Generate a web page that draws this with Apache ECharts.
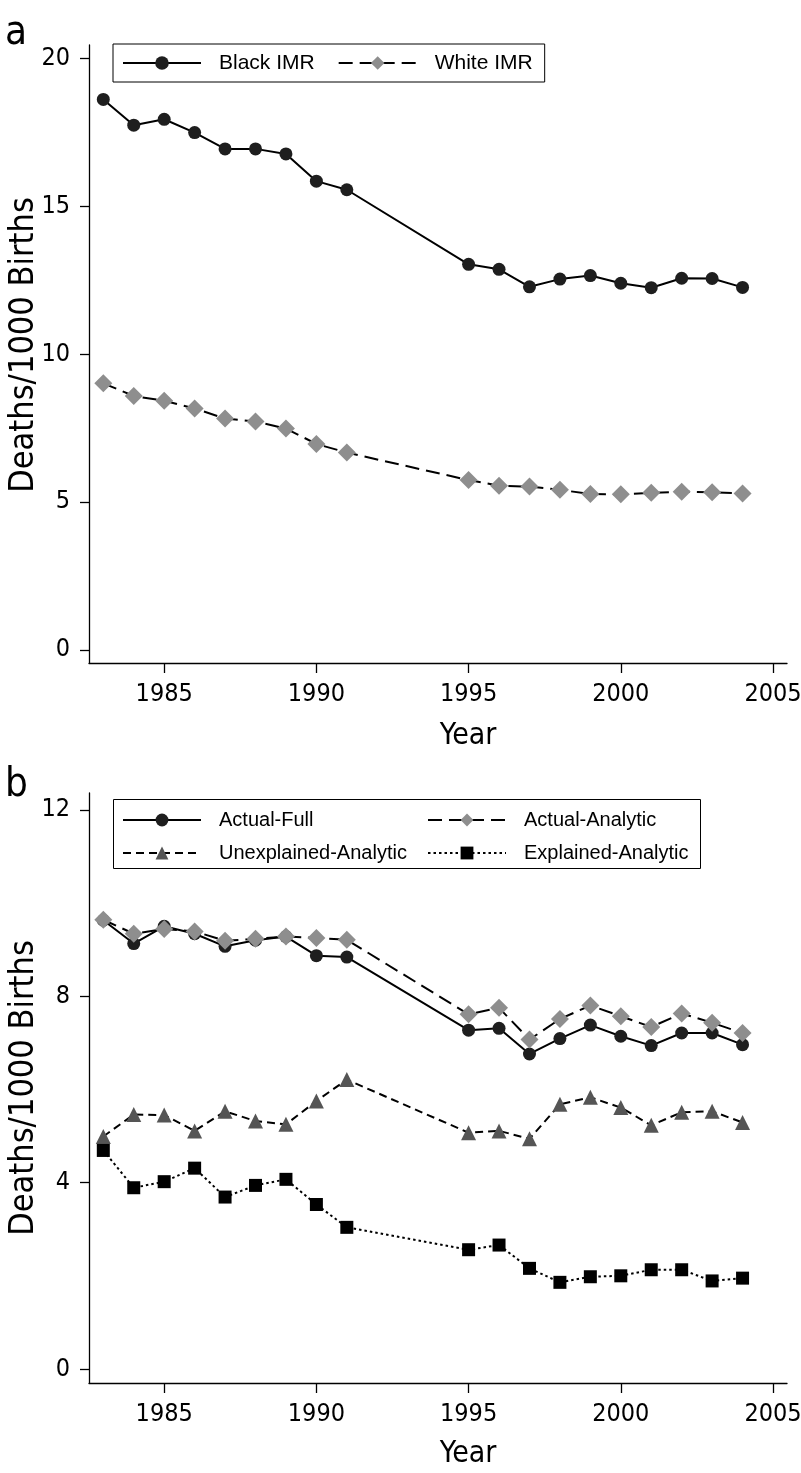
<!DOCTYPE html>
<html>
<head>
<meta charset="utf-8">
<style>
html,body{margin:0;padding:0;background:#fff;}
#chart{width:801px;height:1473px;}
</style>
<script src="https://cdn.jsdelivr.net/npm/echarts@6/dist/echarts.min.js"></script>
</head>
<body>
<div id="chart"></div>
<script>
const years = [1983,1984,1985,1986,1987,1988,1989,1990,1991,1995,1996,1997,1998,1999,2000,2001,2002,2003,2004];
const blackIMR = [18.60,17.73,17.93,17.48,16.93,16.93,16.76,15.84,15.55,13.03,12.86,12.27,12.53,12.65,12.39,12.24,12.56,12.55,12.25];
const whiteIMR = [9.01,8.58,8.42,8.16,7.82,7.72,7.48,6.96,6.67,5.74,5.55,5.52,5.41,5.27,5.26,5.31,5.35,5.33,5.29];
const actualFull = [9.63,9.13,9.50,9.34,9.07,9.20,9.28,8.87,8.84,7.27,7.31,6.76,7.09,7.38,7.14,6.94,7.21,7.21,6.96];
const actualAnalytic = [9.64,9.34,9.44,9.39,9.19,9.23,9.28,9.25,9.21,7.61,7.75,7.07,7.51,7.80,7.57,7.34,7.63,7.43,7.21];
const unexplainedAnalytic = [4.99,5.46,5.45,5.11,5.53,5.32,5.25,5.75,6.21,5.07,5.11,4.94,5.68,5.83,5.61,5.23,5.51,5.53,5.29];
const explainedAnalytic = [4.69,3.89,4.02,4.31,3.69,3.94,4.07,3.53,3.04,2.56,2.66,2.16,1.86,1.98,2.00,2.13,2.13,1.89,1.95];
const xTicks = [1985,1990,1995,2000,2005];
const yTicksA = [0,5,10,15,20];
const yTicksB = [0,4,8,12];

const pair = arr => years.map((y,i)=>[y,arr[i]]);
const axisFont = "'DejaVu Sans Condensed','DejaVu Sans',sans-serif";
const legendFont = "'Liberation Sans',Arial,sans-serif";
const axisLineStyle = {color:'#000', width:1.3};

function xAxisFor(gi, gap){
  return {
    type:'value', gridIndex:gi, min:1982.53, max:2005.46,
    axisLine:{show:true, onZero:false, lineStyle:axisLineStyle},
    axisTick:{show:true, customValues:xTicks, length:10, lineStyle:axisLineStyle},
    axisLabel:{customValues:xTicks, margin:19, fontSize:25, color:'#000', fontFamily:axisFont, formatter:v=>String(v)},
    splitLine:{show:false},
    name:'Year', nameLocation:'middle', nameGap:gap, nameMoveOverlap:false,
    nameTextStyle:{fontSize:30, color:'#000', fontFamily:axisFont, padding:[0,0,0,60]}
  };
}
function yAxisFor(gi, min, max, ticks, namePad){
  return {
    type:'value', gridIndex:gi, min:min, max:max,
    axisLine:{show:true, onZero:false, lineStyle:axisLineStyle},
    axisTick:{show:true, customValues:ticks, length:9, lineStyle:axisLineStyle},
    axisLabel:{customValues:ticks, margin:19, fontSize:25, color:'#000', fontFamily:axisFont, formatter:v=>String(v)},
    splitLine:{show:false},
    name:'Deaths/1000 Births', nameLocation:'middle', nameGap:48, nameMoveOverlap:false,
    nameTextStyle:{fontSize:34, color:'#000', fontFamily:axisFont, padding:namePad}
  };
}
function lineSeries(name, data, gi, symbol, size, mColor, lineType){
  return {
    name:name, type:'line', xAxisIndex:gi, yAxisIndex:gi, data:pair(data),
    symbol:symbol, symbolSize:size, showAllSymbol:true,
    itemStyle:{color:mColor, borderWidth:0},
    lineStyle:{color:'#000', width:2, type:lineType},
    emphasis:{disabled:true}, animation:false, z:2
  };
}

const chart = echarts.init(document.getElementById('chart'), null, {renderer:'canvas'});
chart.setOption({
  backgroundColor:'#fff',
  animation:false,
  title:[
    {text:'a', left:5, top:14, padding:0, textStyle:{fontSize:40, fontWeight:'normal', color:'#000', fontFamily:axisFont}},
    {text:'b', left:5, top:766, padding:0, textStyle:{fontSize:40, fontWeight:'normal', color:'#000', fontFamily:axisFont}}
  ],
  grid:[
    {left:89, right:14, top:45, height:618, containLabel:false, outerBoundsMode:'none'},
    {left:89, right:14, top:793, height:590, containLabel:false, outerBoundsMode:'none'}
  ],
  xAxis:[xAxisFor(0,58), xAxisFor(1,56)],
  yAxis:[yAxisFor(0,-0.44,20.44,yTicksA,[0,0,0,18]), yAxisFor(1,-0.3,12.36,yTicksB,0)],
  legend:[
    {left:113, top:44, orient:'horizontal', data:['Black IMR','White IMR'], selectedMode:false,
     itemWidth:78, itemHeight:17, itemGap:23, padding:[7,12,7,9], borderColor:'#000', borderWidth:1,
     textStyle:{fontFamily:legendFont, fontSize:21, color:'#000', lineHeight:24, padding:[0,0,0,13]}},
    {left:122, top:809, orient:'vertical', data:['Actual-Full','Unexplained-Analytic'], selectedMode:false,
     itemWidth:78, itemHeight:16, itemGap:11, padding:0,
     textStyle:{fontFamily:legendFont, fontSize:20, color:'#000', lineHeight:22, padding:[0,0,0,13]}},
    {left:427, top:809, orient:'vertical', data:['Actual-Analytic','Explained-Analytic'], selectedMode:false,
     itemWidth:78, itemHeight:16, itemGap:11, padding:0,
     textStyle:{fontFamily:legendFont, fontSize:20, color:'#000', lineHeight:22, padding:[0,0,0,13]}}
  ],
  graphic:[
    {type:'rect', shape:{x:113.5, y:799.5, width:587, height:69}, style:{fill:'none', stroke:'#000', lineWidth:1}, silent:true}
  ],
  series:[
    lineSeries('Black IMR', blackIMR, 0, 'circle', 13, '#1e1e1e', 'solid'),
    lineSeries('White IMR', whiteIMR, 0, 'diamond', 18, '#8e8e8e', [14,7]),
    lineSeries('Actual-Full', actualFull, 1, 'circle', 13, '#1e1e1e', 'solid'),
    lineSeries('Actual-Analytic', actualAnalytic, 1, 'diamond', 18, '#8e8e8e', [14,7]),
    lineSeries('Unexplained-Analytic', unexplainedAnalytic, 1, 'triangle', 15, '#555555', [8,5]),
    lineSeries('Explained-Analytic', explainedAnalytic, 1, 'rect', 13, '#000000', [2.5,3])
  ]
});
</script>
</body>
</html>
